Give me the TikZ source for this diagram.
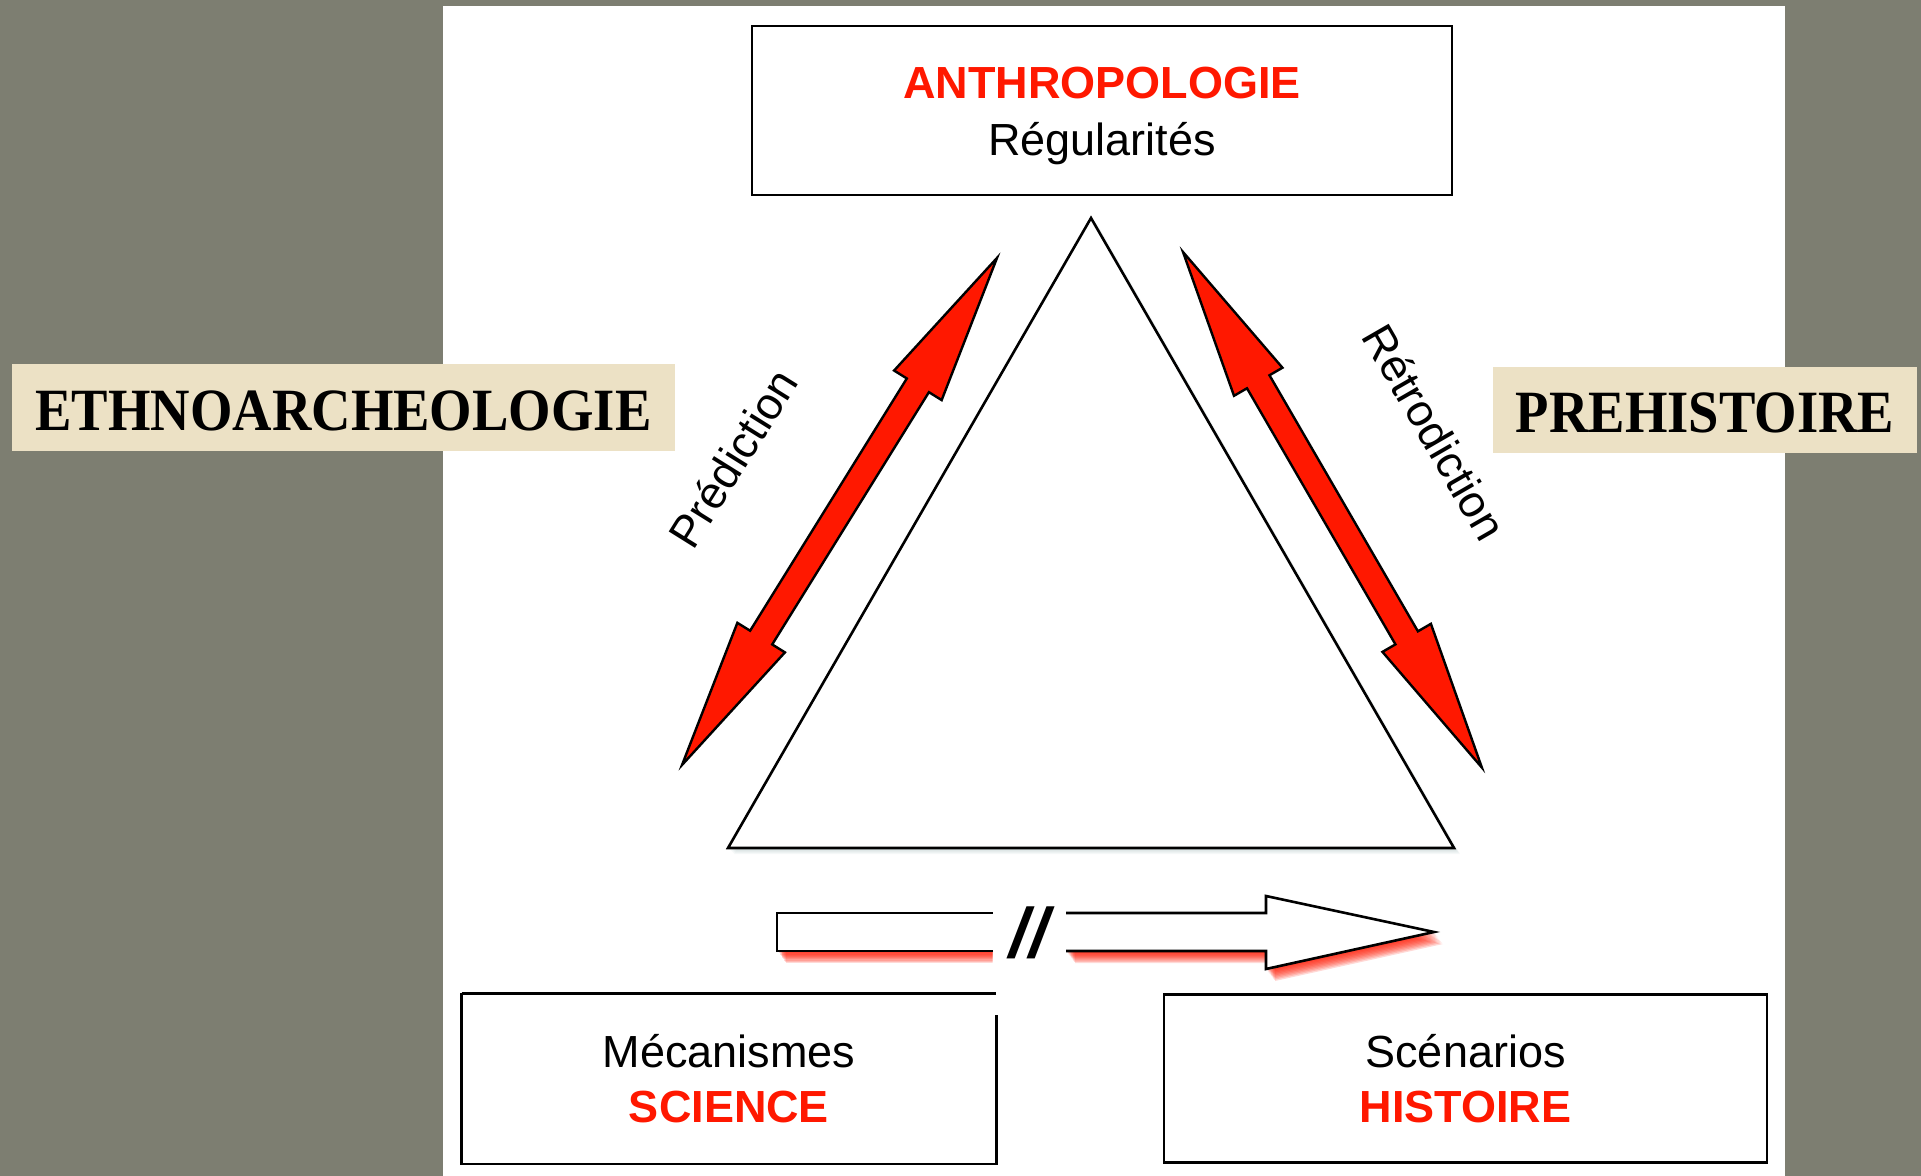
\documentclass[tikz,border=0pt]{standalone}
\usepackage{fontspec}
\setmainfont{Liberation Serif}
\setsansfont{Liberation Sans}
\usetikzlibrary{calc}
\definecolor{bggray}{RGB}{125,126,113}
\definecolor{beige}{RGB}{236,225,197}
\definecolor{ared}{RGB}{255,24,0}
\definecolor{tshadow}{RGB}{140,170,170}
\begin{document}
\begin{tikzpicture}[x=0.5pt,y=-0.5pt,
  box/.style={draw=black, line width=1.4pt, fill=white, rectangle, inner sep=0pt, align=center,
    font=\sffamily\fontsize{22.5}{27.5}\selectfont},
  tag/.style={fill=beige, rectangle, inner sep=0pt, text height=22.5pt, text depth=0pt,
    font=\rmfamily\bfseries\fontsize{30}{36}\selectfont},
  redarrow/.style={fill=ared, draw=black, line width=1.2pt, line join=miter, miter limit=20},
  lbl/.style={font=\sffamily\fontsize{22.5}{27}\selectfont, inner sep=0pt},
  outline/.style={draw=black, line width=1.3pt, line join=miter, miter limit=20}
]
% background
\fill[bggray] (0,0) rectangle (1921,1176);
\fill[white] (443,6) rectangle (1785,1176);
\useasboundingbox (0,0) rectangle (1921,1176);

% top box
\node[box, line width=1.3pt, minimum width=350pt, minimum height=84.5pt] (anthro) at (1102,110.5)
  {\rule{0pt}{21.5pt}{\color{ared}\bfseries ANTHROPOLOGIE}\\[1pt]Régularités};

% side tags
\node[tag, minimum width=331.5pt, minimum height=43.5pt] (ethno) at (343.5,407.5)
  {\scalebox{0.91}[1]{ETHNOARCHEOLOGIE}};
\node[tag, minimum width=212pt, minimum height=43pt] (prehist) at (1705,410)
  {\scalebox{0.91}[1]{PREHISTOIRE}};

% triangle with soft shadow
\foreach \i in {1,...,6}
  \fill[tshadow, opacity=0.07] (1091+\i,218+\i) -- (728+\i,848+\i) -- (1454+\i,848+\i) -- cycle;
\coordinate (apex) at (1091,218);
\coordinate (tl) at (728,848);
\coordinate (tr) at (1454,848);
\draw[outline, fill=white] (apex) -- (tl) -- (tr) -- cycle;

% red double arrows
\coordinate (lb) at (682,765);
\coordinate (lt) at (997,258);
\begin{scope}[shift={(682,765)}, rotate=58.15]
  \filldraw[redarrow] (0,0) -- (150,28) -- (150,13) -- (447,13) -- (447,28) -- (597,0)
    -- (447,-28) -- (447,-13) -- (150,-13) -- (150,-28) -- cycle;
\end{scope}
\coordinate (rt) at (1183,252);
\coordinate (rb) at (1482,768);
\begin{scope}[shift={(1183,252)}, rotate=-59.9]
  \filldraw[redarrow] (0,0) -- (150,28) -- (150,13) -- (446,13) -- (446,28) -- (596,0)
    -- (446,-28) -- (446,-13) -- (150,-13) -- (150,-28) -- cycle;
\end{scope}

\node[lbl, rotate=58] (pred) at (733,458) {Prédiction};
\node[lbl, rotate=-60] (retro) at (1435,432) {Rétrodiction};

% bottom broken arrow with red shadow
\begin{scope}
  \clip (700,952) rectangle (992.5,1000);
  \foreach \i in {1,...,10}
    \fill[ared, opacity=0.16] (777+0.9*\i,913+1.2*\i) rectangle (993+0.9*\i,951+1.2*\i);
\end{scope}
\begin{scope}
  \clip (1066.5,880) rectangle (1480,1000);
  \foreach \i in {1,...,10}
    \fill[ared, opacity=0.16] (1066+0.9*\i,913+1.2*\i) -- (1266+0.9*\i,913+1.2*\i) -- (1266+0.9*\i,896+1.2*\i)
      -- (1434+0.9*\i,932+1.2*\i) -- (1266+0.9*\i,969+1.2*\i) -- (1266+0.9*\i,951+1.2*\i) -- (1066+0.9*\i,951+1.2*\i) -- cycle;
\end{scope}
\draw[outline, fill=white] (993,951) -- (777,951) -- (777,913) -- (993,913);
\draw[outline, fill=white] (1066,913) -- (1266,913) -- (1266,896) -- (1434,932) -- (1266,969) -- (1266,951) -- (1066,951);
\node[font=\sffamily\bfseries\itshape\fontsize{35}{35}\selectfont, inner sep=0pt] (sep) at (1029,933) {//};

% bottom boxes
\node[box, draw=none, minimum width=266pt, minimum height=84pt] (mec) at (729,1078.5)
  {Mécanismes\\{\color{ared}\bfseries SCIENCE}};
\draw[line width=1.4pt] (mec.north west) -- (mec.north east);
\draw[line width=1.4pt] ($(mec.north east)+(0,-11pt)$) -- (mec.south east) -- (mec.south west) -- (mec.north west);
\node[box, minimum width=301.5pt, minimum height=84pt] (scen) at (1465.5,1078.5)
  {Scénarios\\{\color{ared}\bfseries HISTOIRE}};
\end{tikzpicture}
\end{document}
